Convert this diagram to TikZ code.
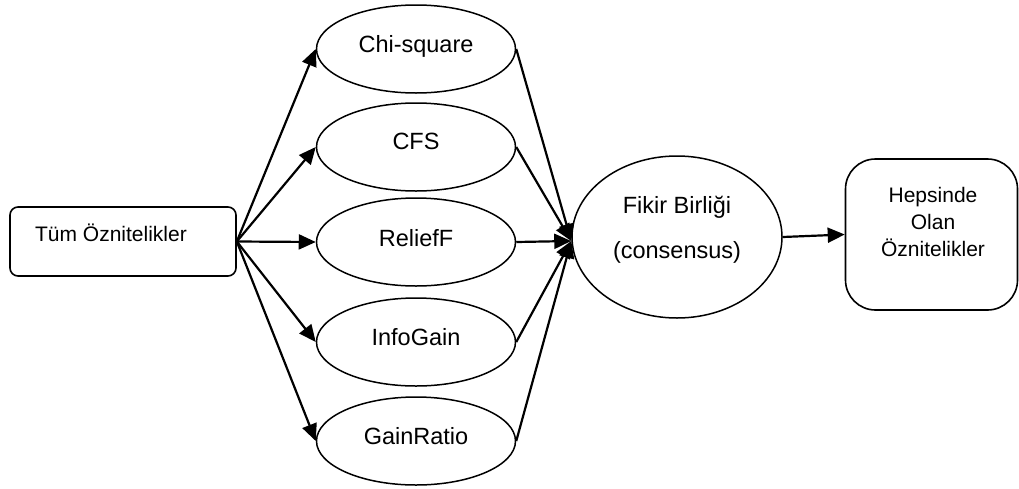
\documentclass[tikz,border=0pt]{standalone}
\usepackage{fontspec}
\setmainfont{Liberation Sans}
\usetikzlibrary{shapes.geometric,arrows.meta}
\tikzset{
  oval/.style={draw=black, line width=1.5pt, ellipse, minimum width=199pt, minimum height=88pt, inner sep=0pt},
  bigoval/.style={draw=black, line width=1.5pt, ellipse, minimum width=210pt, minimum height=162pt, inner sep=0pt},
  boxl/.style={draw=black, line width=1.6pt, rectangle, rounded corners=8pt, minimum width=226pt, minimum height=69pt, inner sep=0pt},
  boxr/.style={draw=black, line width=1.6pt, rectangle, rounded corners=30pt, minimum width=172pt, minimum height=151pt, inner sep=0pt},
  lbl/.style={anchor=base, inner sep=0pt, font=\fontsize{23.5}{28}\selectfont},
  lbls/.style={anchor=base, inner sep=0pt, font=\fontsize{21}{25}\selectfont},
  arr/.style={line width=2.2pt, -{Triangle[length=17pt,width=15pt]}},
}
\begin{document}
\begin{tikzpicture}[x=1pt,y=-1pt]
\useasboundingbox (0,0) rectangle (1019,488);
% left box
\node[boxl] (src) at (123,241.5) {};
\node[lbls] (srct) at (111,241) {Tüm Öznitelikler};
% ellipses
\node[oval] (c1) at (416,49) {};
\node[oval] (c2) at (416,147) {};
\node[oval] (c3) at (416,242) {};
\node[oval] (c4) at (416,342) {};
\node[oval] (c5) at (416,441) {};
\node[lbl] (t1) at (416,52) {Chi-square};
\node[lbl] (t2) at (416,149) {CFS};
\node[lbl] (t3) at (416,246) {ReliefF};
\node[lbl] (t4) at (416,345) {InfoGain};
\node[lbl] (t5) at (416,444) {GainRatio};
% consensus
\node[bigoval] (cons) at (677,237) {};
\coordinate (consin) at ([yshift=-4pt]cons.west);
\node[lbl] (cons1) at (677,213) {Fikir Birliği};
\node[lbl] (cons2) at (677,258) {(consensus)};
% right box
\node[boxr] (out) at (931.5,234.5) {};
\node[lbls] (o1) at (933,202) {Hepsinde};
\node[lbls] (o2) at (933,229) {Olan};
\node[lbls] (o3) at (933,256) {Öznitelikler};
% arrows
\foreach \i in {1,...,5}{
  \draw[arr] (src.east) -- (c\i.west);
  \draw[arr] (c\i.east) -- (consin);
}
\draw[arr] (cons.east) -- (out.west);
\end{tikzpicture}
\end{document}
